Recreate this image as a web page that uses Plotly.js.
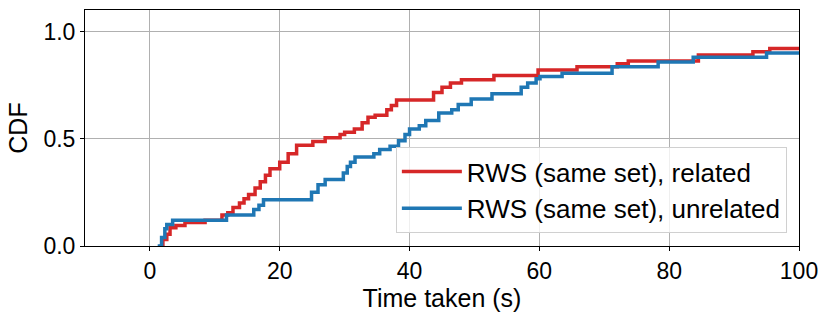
<!DOCTYPE html>
<html>
<head>
<meta charset="utf-8">
<script src="https://cdn.plot.ly/plotly-3.0.1.min.js"></script>
<style>
  body { margin: 0; background: #fff; }
  #grafico { width: 831px; height: 320px; }
</style>
</head>
<body>
<div id="grafico"></div>
<script>
// CDF escalonada (tiempo en s, fracción acumulada)
const tiempoRelated = [1.5, 2.0, 2.6, 3.1, 4.0, 5.4, 8.5, 11.1, 12.0, 12.8, 13.8, 14.5, 15.2, 16.2, 17.0, 17.8, 18.5, 20.0, 21.3, 22.6, 25.1, 27.0, 29.3, 30.0, 31.5, 32.7, 33.6, 34.7, 36.5, 37.2, 38.0, 43.7, 45.0, 46.3, 48.0, 53.0, 59.8, 65.8, 72.0, 73.7, 84.5, 92.9, 95.5, 100];
const cdfRelated = [0, 0.03, 0.055, 0.085, 0.095, 0.11, 0.12, 0.145, 0.155, 0.18, 0.2, 0.22, 0.24, 0.27, 0.3, 0.33, 0.36, 0.39, 0.43, 0.47, 0.487, 0.505, 0.52, 0.53, 0.545, 0.575, 0.6, 0.61, 0.635, 0.655, 0.68, 0.715, 0.74, 0.76, 0.775, 0.795, 0.82, 0.835, 0.85, 0.862, 0.89, 0.905, 0.92, 0.92];

const tiempoUnrelated = [1.2, 1.8, 2.3, 2.6, 3.5, 11.8, 16.0, 16.8, 17.5, 24.9, 25.9, 27.0, 29.8, 30.4, 30.9, 31.6, 34.5, 35.4, 37.0, 38.3, 39.3, 40.0, 41.5, 42.5, 44.5, 46.5, 47.5, 49.5, 52.7, 57.2, 58.2, 59.5, 60.1, 63.5, 71.2, 78.3, 83.7, 95.0, 100];
const cdfUnrelated = [0, 0.04, 0.08, 0.1, 0.12, 0.145, 0.17, 0.19, 0.215, 0.25, 0.285, 0.31, 0.34, 0.37, 0.39, 0.415, 0.43, 0.45, 0.465, 0.49, 0.52, 0.545, 0.56, 0.585, 0.62, 0.635, 0.66, 0.685, 0.71, 0.74, 0.76, 0.78, 0.79, 0.805, 0.835, 0.858, 0.88, 0.9, 0.9];

const ticksX = [0, 20, 40, 60, 80, 100];
const ticksY = [0, 0.5, 1.0];
const etiquetasY = ["0.0", "0.5", "1.0"];

const fuente = "Liberation Sans, Arial, Helvetica, sans-serif";

Plotly.newPlot("grafico", [
    {
        x: tiempoRelated,
        y: cdfRelated,
        mode: "lines",
        name: "RWS (same set), related",
        line: { color: "#d62728", width: 3.5, shape: "hv" }
    },
    {
        x: tiempoUnrelated,
        y: cdfUnrelated,
        mode: "lines",
        name: "RWS (same set), unrelated",
        line: { color: "#1f77b4", width: 3.5, shape: "hv" }
    }
], {
    width: 831,
    height: 320,
    margin: { l: 85, r: 32, t: 10, b: 74 },
    paper_bgcolor: "#fff",
    plot_bgcolor: "#fff",
    font: { family: fuente, size: 23, color: "#000" },
    showlegend: true,
    legend: {
        x: 0.983, y: 0.055, xanchor: "right", yanchor: "bottom",
        bgcolor: "rgba(255,255,255,0.8)",
        bordercolor: "#d0d0d0", borderwidth: 1,
        font: { family: fuente, size: 26, color: "#000" },
        itemwidth: 60,
        tracegroupgap: 0
    },
    xaxis: {
        range: [-10, 100],
        tickvals: ticksX,
        showgrid: true, gridcolor: "#b0b0b0", gridwidth: 1,
        zeroline: false,
        showline: true, mirror: true, linecolor: "#000", linewidth: 1,
        ticks: "outside", ticklen: 4, tickcolor: "#000",
        title: { text: "Time taken (s)", standoff: 3, font: { size: 25 } }
    },
    yaxis: {
        range: [0, 1.1],
        tickvals: ticksY,
        ticktext: etiquetasY,
        showgrid: true, gridcolor: "#b0b0b0", gridwidth: 1,
        zeroline: false,
        showline: true, mirror: true, linecolor: "#000", linewidth: 1,
        ticks: "outside", ticklen: 4, tickcolor: "#000",
        title: { text: "CDF", standoff: 8, font: { size: 25 } }
    }
}, { displayModeBar: false, staticPlot: true });
</script>
</body>
</html>
